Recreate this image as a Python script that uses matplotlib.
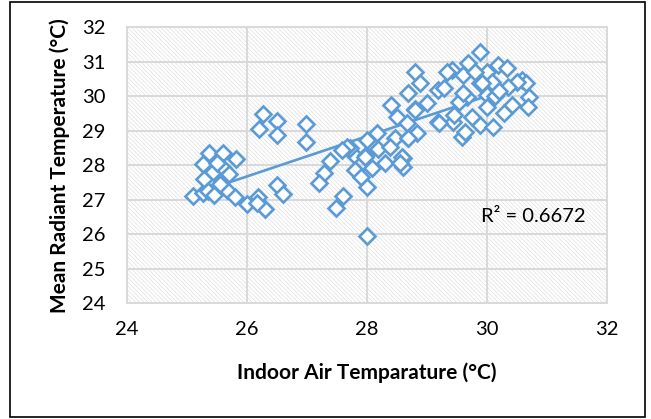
import numpy as np
import matplotlib
matplotlib.use("Agg")
import matplotlib.pyplot as plt
from matplotlib.patches import Rectangle

# Indoor air temperature (x) and mean radiant temperature (y)
air_temp = [
    25.10, 25.27, 25.29, 25.27, 25.38, 25.60, 25.82, 25.44, 25.60, 25.60,
    25.49, 25.67, 25.81, 26.00, 26.19, 26.31, 26.17, 26.50, 26.61, 25.35,
    25.45, 25.55, 25.70, 25.50,
    26.28, 26.50, 26.21, 26.50, 26.99, 26.99,
    27.39, 27.28, 27.21, 27.61, 27.49, 28.00, 27.78, 27.99, 28.19, 27.81,
    28.08, 27.90, 28.00, 28.31, 28.47, 28.69, 28.60, 28.61, 27.72, 28.00,
    28.84, 27.67, 28.17, 28.39, 28.58, 27.58, 27.97, 28.55,
    29.89, 29.69, 29.42, 28.80, 28.89, 30.19, 30.33, 29.61, 30.00, 29.80,
    29.89, 30.08, 30.58, 30.66, 30.50, 29.19, 28.69, 29.67, 30.00, 30.36,
    30.70, 28.40, 28.80, 29.00, 29.53, 30.00, 30.42, 30.69, 30.28, 28.50,
    28.81, 29.19, 29.44, 29.89, 30.11, 29.58, 29.63, 29.33, 29.61, 29.28,
    28.69, 29.21, 28.67, 29.92, 30.14, 29.75, 30.20, 29.45,
]
mrt = [
    27.11, 27.19, 27.59, 28.03, 28.34, 28.36, 28.17, 27.81, 27.91, 27.57,
    27.30, 27.28, 27.07, 26.88, 27.07, 26.72, 26.91, 27.43, 27.17, 27.25,
    27.15, 27.45, 27.75, 28.05,
    29.48, 29.29, 29.04, 28.87, 29.19, 28.66,
    28.13, 27.77, 27.48, 27.11, 26.75, 25.95, 28.29, 28.29, 28.46, 27.86,
    27.91, 27.65, 27.36, 28.05, 28.78, 28.78, 28.20, 27.96, 28.49, 28.73,
    28.92, 28.54, 28.92, 28.53, 28.25, 28.44, 28.25, 28.05,
    31.27, 30.97, 30.76, 30.71, 30.37, 30.90, 30.80, 30.61, 30.71, 30.71,
    30.37, 30.42, 30.47, 30.37, 30.42, 30.18, 30.08, 29.98, 30.03, 30.27,
    29.98, 29.74, 29.62, 29.79, 29.84, 29.69, 29.74, 29.68, 29.50, 29.38,
    29.59, 29.24, 29.25, 29.16, 29.11, 28.82, 28.97, 30.71, 30.08, 30.23,
    28.78, 29.21, 29.21, 30.37, 30.00, 29.40, 30.15, 29.45,
]
# linear trendline (slope, intercept)
trend_coef = [0.582, 12.54]
r2_label = "R\u00b2 = 0.6672"
x_ticks = [24, 26, 28, 30, 32]
y_ticks = [24, 25, 26, 27, 28, 29, 30, 31, 32]
x_label = "Indoor Air Temparature (\u00b0C)"
y_label = "Mean Radiant Temperature (\u00b0C)"

plt.rcParams['font.family'] = ['Lato', 'DejaVu Sans']
plt.rcParams['hatch.linewidth'] = 0.45
plt.rcParams['hatch.color'] = '#dedede'

blue = '#5B9BD5'
grid_c = '#d9d9d9'

fig = plt.figure(figsize=(6.51, 4.19), dpi=100)
ax = fig.add_axes([0.1946, 0.276, 0.7374, 0.6596])

# hatched plot area
ax.add_patch(Rectangle((0, 0), 1, 1, transform=ax.transAxes, facecolor='white',
                       edgecolor='#dedede', hatch='\\' * 8, linewidth=0, zorder=0))

ax.set_xlim(24, 32)
ax.set_ylim(24, 32)
ax.set_xticks(x_ticks)
ax.set_yticks(y_ticks)
ax.grid(True, color=grid_c, linewidth=1.4, zorder=1)
ax.set_axisbelow(True)
for s in ax.spines.values():
    s.set_color(grid_c)
    s.set_linewidth(1.4)
ax.tick_params(length=0, labelsize=14.5, colors='#000000')
ax.tick_params(axis='x', pad=13)
ax.tick_params(axis='y', pad=15)

x = np.array(air_temp)
y = np.array(mrt)
xs = np.linspace(x.min(), x.max(), 100)
ax.plot(xs, np.polyval(trend_coef, xs), color=blue, linewidth=1.9, zorder=3)

ax.plot(x, y, linestyle='none', marker='D', markersize=7.8, markerfacecolor='white',
        markeredgecolor=blue, markeredgewidth=1.9, zorder=4)

ax.text(29.9, 26.5, r2_label, fontsize=14.5, va='center', ha='left', zorder=5)

ax.set_xlabel(x_label, fontsize=15, fontweight='bold', labelpad=17)
ax.set_ylabel(y_label, fontsize=15, fontweight='bold', labelpad=9)

# outer border
fig.add_artist(Rectangle((10 / 651, 2 / 419), 635 / 651, 415 / 419, transform=fig.transFigure,
                         fill=False, edgecolor='black', linewidth=1.2))

fig.savefig('out.png', dpi=100)
